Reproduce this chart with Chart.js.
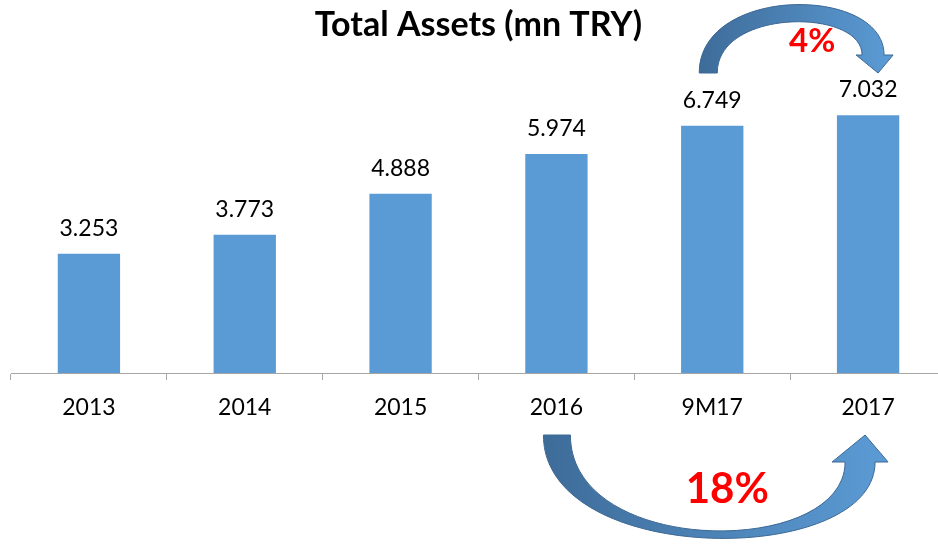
<!DOCTYPE html>
<html>
<head>
<meta charset="utf-8">
<script src="https://cdn.jsdelivr.net/npm/chart.js@4/dist/chart.umd.min.js"></script>
<style>
  html, body { margin: 0; padding: 0; background: #fff; overflow: hidden; }
  #wrap { width: 946px; height: 546px; position: relative; }
</style>
</head>
<body>
<div id="wrap"><canvas id="chart"></canvas></div>
<script>
const categories = ["2013", "2014", "2015", "2016", "9M17", "2017"];
const assets = [3253, 3773, 4888, 5974, 6749, 7032];
const valueLabels = ["3.253", "3.773", "4.888", "5.974", "6.749", "7.032"];
const growthQuarter = "4%";   // 9M17 -> 2017
const growthYear = "18%";     // 2016 -> 2017

const BAR_COLOR = "#5B9BD5";
const FONT = "Lato, 'Open Sans', sans-serif";

// value labels above each bar
const valueLabelPlugin = {
  id: "valueLabels",
  afterDatasetsDraw(chart) {
    const ctx = chart.ctx;
    const meta = chart.getDatasetMeta(0);
    ctx.save();
    ctx.font = "23px " + FONT;
    ctx.fillStyle = "#000";
    ctx.textAlign = "center";
    ctx.textBaseline = "alphabetic";
    meta.data.forEach((bar, i) => {
      ctx.fillText(valueLabels[i], bar.x, bar.y - 18);
    });
    ctx.restore();
  }
};

function arrowGradient(ctx, x0, x1) {
  const g = ctx.createLinearGradient(x0, 0, x1, 0);
  g.addColorStop(0, "#3E6C99");
  g.addColorStop(1, "#5B9BD5");
  return g;
}

// curved growth arrows + percentages
const arrowsPlugin = {
  id: "growthArrows",
  afterDraw(chart) {
    const ctx = chart.ctx;
    const x = chart.scales.x;
    const c3 = x.getPixelForValue(3);
    const c4 = x.getPixelForValue(4);
    const c5 = x.getPixelForValue(5);
    ctx.save();
    ctx.lineWidth = 1;
    ctx.strokeStyle = "#3D6894";

    // top arrow (9M17 -> 2017), curving over the bars
    ctx.beginPath();
    ctx.moveTo(c4 - 13, 73);
    ctx.bezierCurveTo(c4 - 13, -15, c5 + 16, -15, c5 + 16, 55);
    ctx.lineTo(c5 + 25, 55);
    ctx.lineTo(c5 + 10, 73);
    ctx.lineTo(c5 - 12, 55);
    ctx.lineTo(c5 - 6, 55);
    ctx.bezierCurveTo(c5 - 6, 8, c4 + 5, 8, c4 + 5, 73);
    ctx.closePath();
    ctx.fillStyle = arrowGradient(ctx, c4 - 13, c5 + 25);
    ctx.fill();
    ctx.stroke();

    // bottom arrow (2016 -> 2017), curving under the axis
    ctx.beginPath();
    ctx.moveTo(c3 - 13, 435);
    ctx.bezierCurveTo(c3 - 13, 568, c5 + 7, 568, c5 + 7, 462);
    ctx.lineTo(c5 + 20, 462);
    ctx.lineTo(c5 - 3, 435);
    ctx.lineTo(c5 - 36, 462);
    ctx.lineTo(c5 - 23, 462);
    ctx.bezierCurveTo(c5 - 23, 558, c3 + 14, 558, c3 + 14, 435);
    ctx.closePath();
    ctx.fillStyle = arrowGradient(ctx, c3 - 13, c5 + 20);
    ctx.fill();
    ctx.stroke();

    ctx.fillStyle = "#FF0000";
    ctx.textAlign = "center";
    ctx.textBaseline = "middle";
    ctx.font = "bold 33px " + FONT;
    ctx.fillText(growthQuarter, (c4 + c5) / 2 + 22, 41);
    ctx.font = "bold 42px " + FONT;
    ctx.fillText(growthYear, (c3 + c5) / 2 + 15, 489);
    ctx.restore();
  }
};

new Chart(document.getElementById("chart"), {
  type: "bar",
  data: {
    labels: categories,
    datasets: [{
      label: "Total Assets",
      data: assets,
      backgroundColor: BAR_COLOR,
      borderWidth: 0,
      barPercentage: 0.5,
      categoryPercentage: 0.8
    }]
  },
  options: {
    responsive: true,
    maintainAspectRatio: false,
    animation: false,
    layout: { padding: { left: 11, right: 0, top: 0, bottom: 0 } },
    scales: {
      x: {
        grid: { display: true, drawOnChartArea: false, drawTicks: true, tickLength: 7, color: "#A6A6A6" },
        border: { display: true, color: "#A6A6A6", width: 1 },
        ticks: { color: "#000", font: { family: FONT, size: 23 }, padding: 14 },
        afterFit(scale) { scale.height = 173; }
      },
      y: { display: false, min: 0, max: 8000 }
    },
    plugins: {
      legend: { display: false },
      tooltip: { enabled: false },
      title: {
        display: true,
        text: "Total Assets (mn TRY)",
        color: "#000",
        font: { family: FONT, size: 34, weight: "bold", lineHeight: 1.2 },
        padding: { top: 5, bottom: 34 }
      }
    }
  },
  plugins: [valueLabelPlugin, arrowsPlugin]
});
</script>
</body>
</html>
